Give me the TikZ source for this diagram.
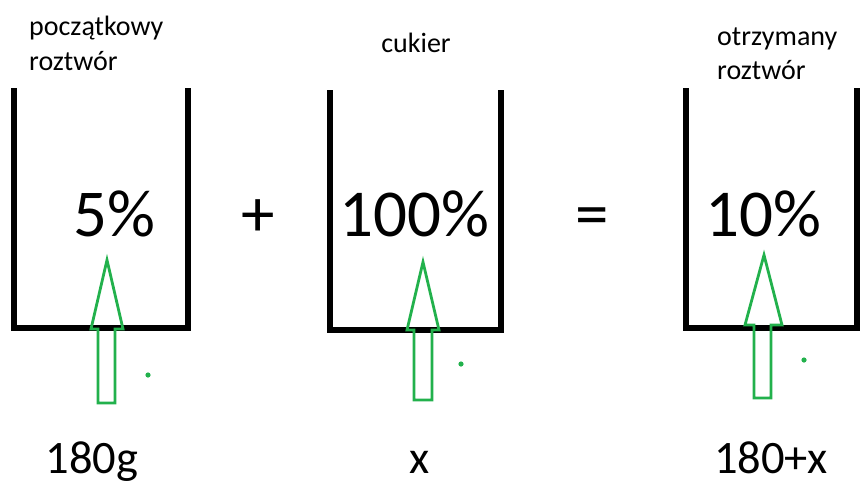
\documentclass[tikz,border=0pt]{standalone}
\usepackage{fontspec}
\setmainfont{Carlito}
\definecolor{paintgreen}{RGB}{34,177,76}
\begin{document}
\begin{tikzpicture}[x=1pt,y=-1pt,
  beaker/.style={line width=6.8pt,line join=miter,black},
  blockarrow/.style={draw=paintgreen,line width=2.8pt,line join=miter},
  gdot/.style={fill=paintgreen,draw=none},
  label/.style={font=\fontsize{28}{35}\selectfont,inner sep=0pt,align=left},
  bigtxt/.style={font=\fontsize{67}{67}\selectfont,inner sep=0pt},
  bottxt/.style={font=\fontsize{46.5}{46.5}\selectfont,inner sep=0pt}]
\useasboundingbox (0,0) rectangle (860,483);
\clip (0,0) rectangle (860,483);
% beakers
\draw[beaker] (14,88) -- (14,328) -- (188,328) -- (188,88);
\draw[beaker] (330,90) -- (330,330) -- (501,330) -- (501,90);
\draw[beaker] (686,88) -- (686,328) -- (857,328) -- (857,88);
% top labels
\node[label,anchor=base west] (l1a) at (29,35) {początkowy};
\node[label,anchor=base west] (l1b) at (29,70) {roztwór};
\node[label,anchor=base] (l2) at (416,52) {cukier};
\node[label,anchor=base west] (l3a) at (717,45) {otrzymany};
\node[label,anchor=base west] (l3b) at (717,79) {roztwór};
% percentages
\node[bigtxt,anchor=base] (p1) at (114,236) {5\%};
\node[bigtxt,anchor=base] (p2) at (414,236) {100\%};
\node[bigtxt,anchor=base] (p3) at (763,236) {10\%};
\node[bigtxt,anchor=base] (plus) at (258,236) {+};
\node[bigtxt,anchor=base] (eq) at (592,236) {=};
% green arrows
\draw[blockarrow] (107,260) -- (123,329) -- (115,329) -- (115,403) -- (98,403) -- (98,329) -- (91,329) -- cycle;
\draw[blockarrow] (423,262) -- (439,330) -- (432,330) -- (432,400) -- (414,400) -- (414,330) -- (407,330) -- cycle;
\draw[blockarrow] (764,255) -- (782,325) -- (771,325) -- (771,398) -- (754,398) -- (754,325) -- (745,325) -- cycle;
\fill[gdot] (148,375) circle (2.6);
\fill[gdot] (461,364) circle (2.6);
\fill[gdot] (804,360) circle (2.6);
% bottom labels
\node[bottxt,anchor=base] (b1) at (92,473) {180g};
\node[bottxt,anchor=base] (b2) at (420,473) {x};
\node[bottxt,anchor=base] (b3) at (771,473) {180+x};
\end{tikzpicture}
\end{document}
